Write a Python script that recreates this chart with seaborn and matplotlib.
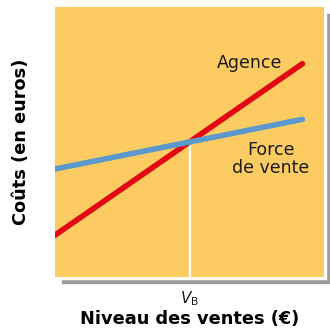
import numpy as np
import pandas as pd
import seaborn as sns
import matplotlib.pyplot as plt
from matplotlib.patches import Rectangle

# sales level (arbitrary units) and costs for the two options
niveau = [0.0, 9.2]
cout_agence = [1.55, 7.9]
cout_force = [4.0, 5.84]
v_b = 5.0
v_b_cout = 5.0

sns.set_theme(style="white")
plt.rcParams['font.family'] = ['DejaVu Sans']
plt.rcParams['mathtext.fontset'] = 'dejavusans'

df = pd.DataFrame({
    'Niveau': niveau * 2,
    'Coût': cout_agence + cout_force,
    'Option': ['Agence'] * 2 + ['Force de vente'] * 2,
})

W, H = 330, 333
fig = plt.figure(figsize=(W / 100, H / 100), dpi=100)

# drop shadow and white frame behind the plot area
fig.patches.append(Rectangle((62 / W, 1 - 283 / H), (330 - 62) / W, (283 - 14) / H,
                             transform=fig.transFigure, color='#9c9c9c', zorder=0))
fig.patches.append(Rectangle((53 / W, 1 - 279 / H), (326 - 53) / W, (279 - 5) / H,
                             transform=fig.transFigure, color='white', zorder=0.5))

ax = fig.add_axes([55 / W, 1 - 277 / H, 269 / W, 270 / H])
ax.set_zorder(2)
ax.set_facecolor('#FCCB62')

ax.vlines(v_b, 0, v_b_cout, color='white', lw=1.6, zorder=1)
sns.lineplot(data=df, x='Niveau', y='Coût', hue='Option',
             palette={'Agence': '#E30613', 'Force de vente': '#5B99CC'},
             lw=4.0, legend=False, ax=ax, zorder=2)
ax.lines[-1].set_zorder(3)

ax.text(7.25, 7.93, 'Agence', ha='center', va='center', fontsize=12.5, color='#1a1a1a')
ax.text(8.03, 4.37, 'Force\nde vente', ha='center', va='center', fontsize=12.5,
        color='#1a1a1a', linespacing=1.05)

ax.set_xlim(0, 10)
ax.set_ylim(0, 10)
ax.set_xticks([v_b])
ax.set_xticklabels([r'$V_{\mathrm{B}}$'], fontsize=11, color='#1a1a1a')
ax.set_yticks([])
ax.tick_params(axis='x', length=0, pad=9)
for s in ax.spines.values():
    s.set_visible(False)

ax.set_xlabel('Niveau des ventes (€)', fontsize=12.8, fontweight='bold', labelpad=1, color='black')
ax.set_ylabel('Coûts (en euros)', fontsize=12.8, fontweight='bold', labelpad=18, color='black')

fig.savefig('out.png', dpi=100)
